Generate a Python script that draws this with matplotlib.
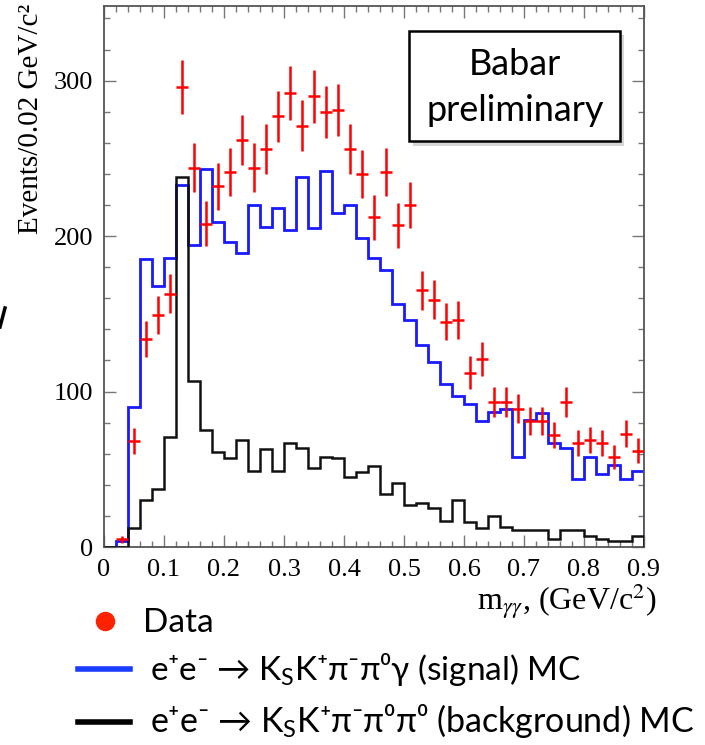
import numpy as np
import matplotlib
matplotlib.use("Agg")
import matplotlib.pyplot as plt
from matplotlib.lines import Line2D
from matplotlib.patches import Rectangle

# bins of 0.02 GeV/c^2 from 0 to 0.9
bin_width = 0.02
n_bins = 45

# signal MC (blue)
signal_mc = [0, 4, 90, 185, 168, 186, 233, 194, 243, 209,
             196, 189, 220, 206, 218, 204, 238, 205, 242, 215,
             220, 199, 186, 178, 156, 146, 130, 119, 105, 97,
             92, 81, 87, 89, 58, 82, 86, 67, 64, 44,
             58, 47, 53, 44, 49]

# background MC (black)
background_mc = [0, 0, 12, 30, 37, 71, 238, 107, 75, 61,
                 57, 69, 49, 63, 49, 67, 64, 51, 58, 57,
                 45, 48, 52, 34, 41, 27, 28, 25, 17, 30,
                 16, 12, 20, 13, 11, 11, 11, 5, 11, 11,
                 7, 5, 4, 4, 7]

# data points (red), first bin empty
data = [np.nan, 5, 68, 134, 149, 163, 296, 244, 208, 232,
        241, 262, 244, 256, 277, 292, 271, 290, 280, 281,
        256, 240, 212, 241, 207, 220, 165, 159, 145, 146,
        112, 121, 93, 93, 89, 81, 81, 72, 93, 67,
        69, 67, 58, 73, 62]

xticks = [0, 0.1, 0.2, 0.3, 0.4, 0.5, 0.6, 0.7, 0.8, 0.9]
yticks = [0, 100, 200, 300]

edges = np.arange(n_bins + 1) * bin_width
centers = edges[:-1] + bin_width / 2
data = np.array(data, dtype=float)

serif = "Liberation Serif"
sans = ["Lato", "Liberation Serif", "DejaVu Sans"]

fig = plt.figure(figsize=(7.05, 7.45), dpi=100)
ax = fig.add_axes([104 / 705, 198 / 745, 540 / 705, 541 / 745])

# histograms
ax.stairs(signal_mc, edges, baseline=0, color="#1a1aff", lw=2.0, zorder=2)
ax.stairs(background_mc, edges, baseline=0, color="#111111", lw=1.8, zorder=3)

# data with poisson errors
ax.errorbar(centers, data, yerr=np.sqrt(data), xerr=bin_width / 2,
            fmt="none", ecolor="#ff0000", elinewidth=1.8, capsize=0, zorder=4)

ax.set_xlim(0, 0.9)
ax.set_ylim(0, 348)
ax.set_xticks(xticks)
ax.set_yticks(yticks)
ax.set_xticklabels(["0" if t == 0 else f"{t:.1f}" for t in xticks])
ax.set_xticks(np.arange(0, 0.9001, 0.02), minor=True)
ax.set_yticks(np.arange(0, 348, 20), minor=True)

ax.tick_params(which="both", direction="in", top=True, right=True,
               color="#777777", width=1.0)
ax.tick_params(which="major", length=8.5, labelsize=19)
ax.tick_params(axis="x", which="major", pad=9)
ax.tick_params(axis="y", which="major", pad=8)
ax.tick_params(which="minor", length=4.3)
for lab in ax.get_xticklabels() + ax.get_yticklabels():
    lab.set_family(serif)
for sp in ax.spines.values():
    sp.set_color("#555555")
    sp.set_linewidth(1.3)

# axis titles
fig.text(31 / 705, 1 - 234 / 745, "Events/0.02 GeV/c²", rotation=90,
         ha="center", va="bottom", family=serif, fontsize=21)
fig.text(657 / 705, 1 - 610 / 745, r"m$_{\gamma\gamma}$, (GeV/c$^{2}$)",
         ha="right", va="baseline", family=serif, fontsize=23,
         math_fontfamily="stix")

# Babar preliminary box with shadow
ax.add_patch(Rectangle((0.572, 0.742), 0.391, 0.204, transform=ax.transAxes,
                       facecolor="#bbbbbb", edgecolor="none", alpha=0.6, zorder=5))
ax.add_patch(Rectangle((0.565, 0.7505), 0.391, 0.2033, transform=ax.transAxes,
                       facecolor="white", edgecolor="black", lw=1.8, zorder=6))
ax.text(0.761, 0.892, "Babar", transform=ax.transAxes, ha="center", va="center",
        family="Lato", fontsize=26, zorder=7)
ax.text(0.761, 0.806, "preliminary", transform=ax.transAxes, ha="center",
        va="center", family="Lato", fontsize=26, zorder=7)

# legend below the plot
fig.add_artist(Line2D([105 / 705], [1 - 621 / 745], marker="o", markersize=13,
                      color="#ff2200", transform=fig.transFigure))
fig.text(143 / 705, 1 - 632 / 745, "Data", ha="left", va="baseline",
         family=sans, fontsize=24)
fig.add_artist(Line2D([78 / 705, 130 / 705], [1 - 669 / 745] * 2, lw=4,
                      color="#1a3cff", transform=fig.transFigure))
fig.text(150 / 705, 1 - 680 / 745,
         r"e⁺e⁻ → K$_\mathregular{S}$K⁺π⁻π⁰γ (signal) MC",
         ha="left", va="baseline", family=sans, fontsize=24)
fig.add_artist(Line2D([78 / 705, 130 / 705], [1 - 722 / 745] * 2, lw=4,
                      color="black", transform=fig.transFigure))
fig.text(150 / 705, 1 - 732 / 745,
         r"e⁺e⁻ → K$_\mathregular{S}$K⁺π⁻π⁰π⁰ (background) MC",
         ha="left", va="baseline", family=sans, fontsize=24.5)

# leftover stroke at the left edge of the slide crop
fig.add_artist(Line2D([5 / 705, 0], [1 - 308 / 745, 1 - 327 / 745], lw=2.5,
                      color="black", transform=fig.transFigure))

fig.savefig("out.png", dpi=100)
